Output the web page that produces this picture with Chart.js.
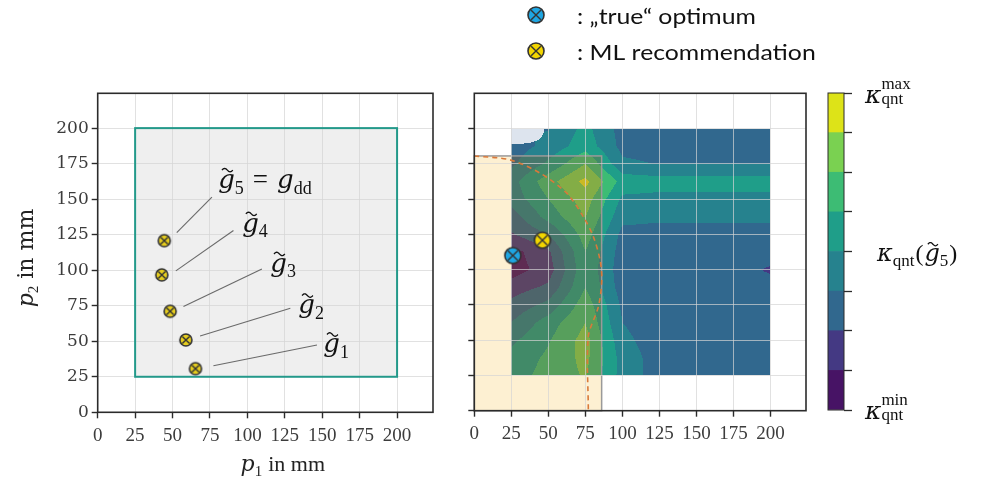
<!DOCTYPE html>
<html lang="en">
<head>
<meta charset="UTF-8">
<title>Design sequence and kappa_qnt map</title>
<script src="https://cdn.jsdelivr.net/npm/chart.js"></script>
<style>
    body { margin: 0; background: #fff; }
    #wrap { position: relative; width: 986px; height: 477px; overflow: hidden; }
    canvas { position: absolute; top: 0; }
</style>
</head>
<body>
<div id="wrap">
    <canvas id="leftChart" style="left:0px" width="440" height="477"></canvas>
    <canvas id="rightChart" style="left:440px" width="380" height="477"></canvas>
    <canvas id="barChart" style="left:800px" width="186" height="477"></canvas>
</div>
<script>
// ---- data ----
const tickValues = [0, 25, 50, 75, 100, 125, 150, 175, 200];
const axisMaxP1 = 224;
const axisMaxP2 = 224.5;

// left: design sequence g~5 ... g~1
const designLabels = ['5', '4', '3', '2', '1'];
const designP1 = [44.5, 42.8, 48.4, 58.9, 65.3];
const designP2 = [120.8, 96.7, 71.1, 50.9, 30.7];
const labelP1 = [80.5, 96.5, 115.3, 134, 150.7];
const labelP2 = [158, 127.2, 99, 69.7, 42.3];
const leaderFromP1 = [52.8, 52.2, 57.3, 68.4, 77.3];
const leaderFromP2 = [126.5, 99.5, 74.4, 53.7, 32.8];
const leaderToP1 = [76.3, 90.7, 109.7, 128.7, 146.5];
const leaderToP2 = [151.4, 127.9, 100.9, 73.2, 47.4];
const designSpaceP1 = [25, 200];
const designSpaceP2 = [25, 200];

// right: kappa_qnt(g~5) levels on the grid (rows = p2 ascending, cols = p1)
const contourP1 = [25, 50, 75, 100, 125, 150, 175, 200];
const contourP2 = [25, 37.5, 50, 62.5, 75, 87.5, 100, 112.5, 125, 137.5, 150, 162.5, 175, 187.5, 200];
const kappaLevels = [
    [4.5, 5.4, 6.1, 3.6, 2.5, 2.3, 2.3, 2.3],
    [4.3, 5.2, 6.3, 3.6, 2.5, 2.3, 2.3, 2.3],
    [3.8, 4.9, 6.4, 3.3, 2.4, 2.3, 2.3, 2.3],
    [3.0, 4.5, 6.0, 3.0, 2.3, 2.3, 2.3, 2.3],
    [2.3, 3.3, 5.6, 2.8, 2.3, 2.3, 2.3, 2.3],
    [1.5, 2.2, 5.0, 2.5, 2.3, 2.3, 2.3, 2.3],
    [0.5, 1.5, 4.8, 2.4, 2.3, 2.3, 2.3, 1.9],
    [0.6, 1.8, 5.0, 2.5, 2.4, 2.4, 2.4, 2.4],
    [1.9, 3.0, 5.5, 2.7, 2.6, 2.6, 2.6, 2.6],
    [2.5, 4.4, 6.05, 3.3, 3.2, 3.2, 3.2, 3.2],
    [3.4, 5.0, 6.5, 3.8, 3.7, 3.7, 3.7, 3.7],
    [3.6, 5.6, 7.3, 4.6, 4.45, 4.45, 4.45, 4.45],
    [2.8, 4.2, 6.0, 3.2, 2.95, 2.95, 2.95, 2.95],
    [2.5, 3.3, 4.6, 2.7, 2.6, 2.6, 2.6, 2.6],
    [null, 2.95, 4.3, 2.6, 2.4, 2.4, 2.4, 2.4]
];
const levelColors = ['#471365', '#443983', '#31688e', '#26828e', '#1f9e89', '#3dbc74', '#7ad151', '#dde318'];
const levelBins = [1, 1, 1, 1, 1, 1, 1, 1];
const levelTicks = [0, 1, 2, 3, 4, 5, 6, 7, 8];
const feasibleP1 = [0, 86];
const feasibleP2 = [0, 180.6];
const boundaryP1 = [0, 24.1, 44.4, 62.4, 73.6, 80.4, 84.9, 86.1, 83.8, 77, 77];
const boundaryP2 = [180.6, 177.8, 168.4, 154.2, 137.6, 123.4, 106.9, 92.7, 73.8, 52.5, 0];
const trueOptimumP1 = [26];
const trueOptimumP2 = [110];
const mlRecommendP1 = [46];
const mlRecommendP2 = [120.8];

// ---- helpers ----
const MATH = "'DejaVu Serif'";
const TEXT = "'Liberation Serif'";

function makeMarker(fill, r) {
    const c = document.createElement('canvas');
    const s = Math.ceil(2 * r + 4);
    c.width = s; c.height = s;
    const g = c.getContext('2d');
    const m = s / 2;
    g.beginPath(); g.arc(m, m, r, 0, Math.PI * 2);
    g.fillStyle = fill; g.fill();
    g.lineWidth = 1.6; g.strokeStyle = '#333'; g.stroke();
    const d = r * 0.6;
    g.beginPath();
    g.moveTo(m - d, m - d); g.lineTo(m + d, m + d);
    g.moveTo(m + d, m - d); g.lineTo(m - d, m + d);
    g.lineWidth = 1.4; g.stroke();
    return c;
}

function tilde(ctx, cx, cy, w) {
    ctx.beginPath();
    for (let k = 0; k <= 16; k++) {
        const t = k / 16;
        const px = cx - w / 2 + t * w, py = cy - Math.sin(t * Math.PI * 2) * w * 0.16;
        if (k === 0) ctx.moveTo(px, py); else ctx.lineTo(px, py);
    }
    ctx.lineWidth = 1.3;
    ctx.stroke();
}

// italic symbol with optional tilde, subscript and superscript; returns end x
function mathSym(ctx, x, y, sym, size, opts) {
    opts = opts || {};
    ctx.font = 'italic ' + size + 'px ' + MATH;
    ctx.fillText(sym, x, y);
    const w = ctx.measureText(sym).width;
    if (opts.tilde) tilde(ctx, x + w * 0.55, y - size * 0.68, size * 0.42);
    let end = x + w;
    const s = Math.round(size * (opts.scriptScale || 0.7));
    let subEnd = end, supEnd = end;
    if (opts.sub) {
        ctx.font = s + 'px ' + (opts.subFont || MATH);
        ctx.fillText(opts.sub, end, y + size * (opts.subDrop || 0.22));
        subEnd = end + ctx.measureText(opts.sub).width;
    }
    if (opts.sup) {
        ctx.font = s + 'px ' + (opts.subFont || MATH);
        ctx.fillText(opts.sup, end, y - size * (opts.supRise || 0.5));
        supEnd = end + ctx.measureText(opts.sup).width;
    }
    return Math.max(subEnd, supEnd);
}

function plain(ctx, x, y, text, size, font) {
    ctx.font = size + 'px ' + (font || MATH);
    ctx.fillText(text, x, y);
    return x + ctx.measureText(text).width;
}

const frame = {
    id: 'frame',
    afterDraw(chart) {
        const {ctx, chartArea: a} = chart;
        ctx.save();
        ctx.strokeStyle = '#2b2b2b';
        ctx.lineWidth = chart.canvas.id === 'barChart' ? 1 : 1.6;
        ctx.strokeRect(a.left, a.top, a.right - a.left, a.bottom - a.top);
        ctx.restore();
    }
};

function axisOpts(showLabels, fontFamily, fontSize, pad) {
    return {
        type: 'linear',
        min: 0,
        afterBuildTicks: s => { s.ticks = tickValues.map(v => ({value: v})); },
        ticks: {
            display: showLabels,
            color: '#3c3c3c',
            font: {family: fontFamily, size: fontSize},
            padding: pad
        },
        grid: {color: 'rgba(212,212,212,0.7)', lineWidth: 1, tickColor: '#2b2b2b', tickLength: 6, tickWidth: 1.4},
        border: {display: false}
    };
}

// ---- left chart ----
const leftMarker = makeMarker('#e6cd1e', 6);

const designPlugin = {
    id: 'design',
    beforeDraw(chart) {
        const {ctx, scales: {x, y}} = chart;
        const x0 = x.getPixelForValue(designSpaceP1[0]), x1 = x.getPixelForValue(designSpaceP1[1]);
        const y0 = y.getPixelForValue(designSpaceP2[0]), y1 = y.getPixelForValue(designSpaceP2[1]);
        ctx.save();
        ctx.fillStyle = '#efefef';
        ctx.fillRect(x0, y1, x1 - x0, y0 - y1);
        ctx.restore();
    },
    afterDatasetsDraw(chart) {
        const {ctx, scales: {x, y}} = chart;
        const x0 = x.getPixelForValue(designSpaceP1[0]), x1 = x.getPixelForValue(designSpaceP1[1]);
        const y0 = y.getPixelForValue(designSpaceP2[0]), y1 = y.getPixelForValue(designSpaceP2[1]);
        ctx.save();
        ctx.strokeStyle = '#23998a';
        ctx.lineWidth = 2;
        ctx.strokeRect(x0, y1, x1 - x0, y0 - y1);
        // leader lines
        ctx.strokeStyle = '#6a6a6a';
        ctx.lineWidth = 1.1;
        designLabels.forEach((lab, i) => {
            ctx.beginPath();
            ctx.moveTo(x.getPixelForValue(leaderFromP1[i]), y.getPixelForValue(leaderFromP2[i]));
            ctx.lineTo(x.getPixelForValue(leaderToP1[i]), y.getPixelForValue(leaderToP2[i]));
            ctx.stroke();
        });
        // labels
        ctx.fillStyle = '#111';
        ctx.strokeStyle = '#111';
        ctx.textBaseline = 'alphabetic';
        designLabels.forEach((lab, i) => {
            const px = x.getPixelForValue(labelP1[i]), py = y.getPixelForValue(labelP2[i]);
            let e = mathSym(ctx, px, py, 'g', 26, {tilde: true, sub: lab, subFont: TEXT});
            if (i === 0) {
                e = plain(ctx, e + 9, py, '=', 27, TEXT);
                mathSym(ctx, e + 9, py, 'g', 26, {sub: 'dd', subFont: TEXT});
            }
        });
        ctx.restore();
    },
    afterDraw(chart) {
        const {ctx, chartArea: a} = chart;
        ctx.save();
        ctx.fillStyle = '#222';
        ctx.strokeStyle = '#222';
        ctx.textBaseline = 'alphabetic';
        // x title
        ctx.font = '22px ' + TEXT;
        const xw = 13 + 9 + 6 + ctx.measureText('in mm').width;
        let sx = 283 - xw / 2;
        sx = mathSym(ctx, sx, 471, 'p', 22, {sub: '1', subFont: TEXT});
        plain(ctx, sx + 6, 471, 'in mm', 22, TEXT);
        // y title
        ctx.translate(33, (a.top + a.bottom) / 2 + 4);
        ctx.rotate(-Math.PI / 2);
        ctx.font = '22px ' + MATH;
        const yw = 14 + 10 + 7 + ctx.measureText('in mm').width;
        let sy = -yw / 2;
        sy = mathSym(ctx, sy, 0, 'p', 22, {sub: '2', subFont: TEXT});
        plain(ctx, sy + 7, 0, 'in mm', 22, MATH);
        ctx.restore();
    }
};

new Chart(document.getElementById('leftChart'), {
    type: 'scatter',
    data: {
        datasets: [{
            data: designP1.map((v, i) => ({x: v, y: designP2[i]})),
            pointStyle: leftMarker
        }]
    },
    options: {
        responsive: false,
        animation: false,
        layout: {padding: {top: 93.3, right: 7, bottom: 0, left: 0}},
        plugins: {legend: {display: false}, tooltip: {enabled: false}},
        scales: {
            x: Object.assign(axisOpts(true, TEXT, 19, 6), {max: axisMaxP1, afterFit: s => { s.height = 477 - 412.3; }}),
            y: Object.assign(axisOpts(true, MATH, 17, 3), {max: axisMaxP2, afterFit: s => { s.width = 97.7; }})
        }
    },
    plugins: [designPlugin, frame]
});

// ---- right chart ----
function cellIndex(arr, v) {
    let i = 0;
    while (i < arr.length - 2 && v > arr[i + 1]) i++;
    return i;
}

function kappaAt(p1, p2) {
    const i = cellIndex(contourP1, p1), j = cellIndex(contourP2, p2);
    const tx = (p1 - contourP1[i]) / (contourP1[i + 1] - contourP1[i]);
    const ty = (p2 - contourP2[j]) / (contourP2[j + 1] - contourP2[j]);
    const corners = [
        [kappaLevels[j][i], (1 - tx) * (1 - ty)],
        [kappaLevels[j][i + 1], tx * (1 - ty)],
        [kappaLevels[j + 1][i], (1 - tx) * ty],
        [kappaLevels[j + 1][i + 1], tx * ty]
    ];
    let wNull = 0, sum = 0, wSum = 0;
    corners.forEach(c => {
        if (c[0] === null) wNull += c[1];
        else { sum += c[0] * c[1]; wSum += c[1]; }
    });
    if (wNull > 0.1) return null;
    return sum / wSum;
}

function levelColor(v) {
    if (v === null) return '#dde4ee';
    return levelColors[Math.max(0, Math.min(levelColors.length - 1, Math.floor(v)))];
}

const contourPlugin = {
    id: 'contour',
    beforeDraw(chart) {
        const {ctx, scales: {x, y}} = chart;
        const left = Math.round(x.getPixelForValue(contourP1[0]));
        const right = Math.round(x.getPixelForValue(contourP1[contourP1.length - 1]));
        const top = Math.round(y.getPixelForValue(contourP2[contourP2.length - 1]));
        const bottom = Math.round(y.getPixelForValue(contourP2[0]));
        ctx.save();
        for (let py = top; py < bottom; py++) {
            const v2 = y.getValueForPixel(py + 0.5);
            let runStart = left, runColor = null;
            for (let px = left; px <= right; px++) {
                const col = px < right ? levelColor(kappaAt(x.getValueForPixel(px + 0.5), v2)) : null;
                if (col !== runColor) {
                    if (runColor) { ctx.fillStyle = runColor; ctx.fillRect(runStart, py, px - runStart, 1); }
                    runColor = col; runStart = px;
                }
            }
        }
        // feasible region overlay
        const fx0 = x.getPixelForValue(feasibleP1[0]), fx1 = x.getPixelForValue(feasibleP1[1]);
        const fy0 = y.getPixelForValue(feasibleP2[0]), fy1 = y.getPixelForValue(feasibleP2[1]);
        ctx.globalCompositeOperation = 'multiply';
        ctx.fillStyle = 'rgb(253,240,210)';
        ctx.fillRect(fx0, fy1, fx1 - fx0, fy0 - fy1);
        ctx.globalCompositeOperation = 'source-over';
        ctx.fillStyle = 'rgba(160,112,82,0.27)';
        const ix0 = Math.max(fx0, left), iy0 = Math.max(fy1, top);
        ctx.fillRect(ix0, iy0, fx1 - ix0, bottom - iy0);
        ctx.strokeStyle = '#9a9a9a';
        ctx.lineWidth = 1.5;
        ctx.strokeRect(fx0, fy1, fx1 - fx0, fy0 - fy1);
        ctx.restore();
    },
    afterDraw(chart) {
        const {ctx} = chart;
        ctx.save();
        ctx.drawImage(blueMarker, 96 - blueMarker.width / 2, 15 - blueMarker.height / 2);
        ctx.drawImage(yellowMarker, 96 - yellowMarker.width / 2, 51 - yellowMarker.height / 2);
        ctx.fillStyle = '#111';
        ctx.font = '21px Lato';
        ctx.textBaseline = 'alphabetic';
        ctx.translate(137, 0);
        ctx.scale(1.18, 1);
        ctx.fillText(': \u201Etrue\u201C optimum', 0, 24);
        ctx.fillText(': ML recommendation', 0, 60);
        ctx.restore();
    }
};

const blueMarker = makeMarker('#1fa6e2', 8);
const yellowMarker = makeMarker('#f3d600', 8);

new Chart(document.getElementById('rightChart'), {
    type: 'scatter',
    data: {
        datasets: [
            {data: trueOptimumP1.map((v, i) => ({x: v, y: trueOptimumP2[i]})), pointStyle: blueMarker},
            {data: mlRecommendP1.map((v, i) => ({x: v, y: mlRecommendP2[i]})), pointStyle: yellowMarker},
            {
                data: boundaryP1.map((v, i) => ({x: v, y: boundaryP2[i]})),
                showLine: true,
                pointRadius: 0,
                borderColor: '#d9793a',
                borderWidth: 1.6,
                borderDash: [5, 4],
                tension: 0.3
            }
        ]
    },
    options: {
        responsive: false,
        animation: false,
        layout: {padding: {top: 93.3, right: 14, bottom: 0, left: 0}},
        plugins: {legend: {display: false}, tooltip: {enabled: false}},
        scales: {
            x: Object.assign(axisOpts(true, TEXT, 19, 6), {max: axisMaxP1, afterFit: s => { s.height = 477 - 410.7; }}),
            y: Object.assign(axisOpts(false, TEXT, 17, 3), {max: 225, afterFit: s => { s.width = 34.3; }})
        }
    },
    plugins: [contourPlugin, frame]
});

// ---- colour bar ----
const colorbarLabels = {
    id: 'cbLabels',
    afterDraw(chart) {
        const {ctx, chartArea: a} = chart;
        ctx.save();
        ctx.fillStyle = '#111';
        ctx.strokeStyle = '#111';
        ctx.textBaseline = 'alphabetic';
        const lx = a.right + 21;
        const kOpts = {sup: 'max', sub: 'qnt', subFont: TEXT, scriptScale: 0.68, subDrop: 0.04, supRise: 0.55};
        mathSym(ctx, lx, a.top + 10, '\u03BA', 25, kOpts);
        mathSym(ctx, lx, a.bottom + 9, '\u03BA', 25, Object.assign({}, kOpts, {sup: 'min'}));
        const my = (a.top + a.bottom) / 2 + 9;
        let e = mathSym(ctx, a.right + 33, my, '\u03BA', 24, {sub: 'qnt', subFont: TEXT});
        e = plain(ctx, e + 1, my, '(', 24, TEXT);
        e = mathSym(ctx, e + 1, my, 'g', 24, {tilde: true, sub: '5', subFont: TEXT});
        plain(ctx, e + 1, my, ')', 24, TEXT);
        ctx.restore();
    }
};

new Chart(document.getElementById('barChart'), {
    type: 'bar',
    data: {
        labels: [''],
        datasets: levelBins.map((v, i) => ({
            data: [v],
            backgroundColor: levelColors[i],
            borderWidth: 0,
            barPercentage: 1,
            categoryPercentage: 1
        }))
    },
    options: {
        responsive: false,
        animation: false,
        layout: {padding: {top: 93, right: 0, bottom: 67, left: 28}},
        plugins: {legend: {display: false}, tooltip: {enabled: false}},
        scales: {
            x: {display: false, stacked: true},
            y: {
                stacked: true,
                position: 'right',
                min: 0,
                max: 8,
                afterBuildTicks: s => { s.ticks = levelTicks.map(v => ({value: v})); },
                afterFit: s => { s.width = 142; },
                ticks: {callback: () => '', padding: 0},
                grid: {drawOnChartArea: false, tickLength: 8, tickColor: '#2b2b2b', tickWidth: 1.3},
                border: {display: false}
            }
        }
    },
    plugins: [colorbarLabels, frame]
});
</script>
</body>
</html>
